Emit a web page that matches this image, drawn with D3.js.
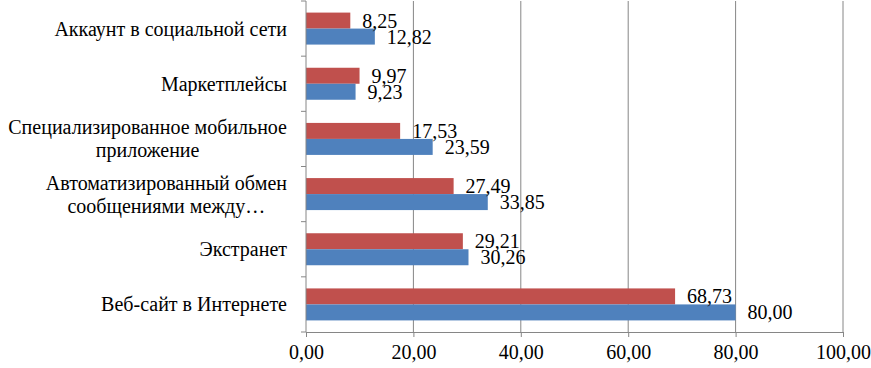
<!DOCTYPE html>
<html>
<head>
<meta charset="utf-8">
<script src="https://cdn.jsdelivr.net/npm/d3@7"></script>
</head>
<body style="margin:0">
<script>
// categories (top to bottom), each one split into its display lines
var categories = [
  ["Аккаунт в социальной сети"],
  ["Маркетплейсы"],
  ["Специализированное мобильное", "приложение"],
  ["Автоматизированный обмен", "сообщениями между…"],
  ["Экстранет"],
  ["Веб-сайт в Интернете"]
];
var seriesRed = [8.25, 9.97, 17.53, 27.49, 29.21, 68.73];
var seriesBlue = [12.82, 9.23, 23.59, 33.85, 30.26, 80.0];
var xTicks = [0, 20, 40, 60, 80, 100];

var fontName = "Times New Roman";
var FONT = "'" + fontName + "'";

var width = 871, height = 368;
var margin = { top: 1, right: 28, bottom: 36, left: 306 };
var w = width - margin.left - margin.right,
  h = height - margin.top - margin.bottom;

var svg = d3.select("body").append("svg")
  .attr("width", width)
  .attr("height", height);

var g = svg.append("g")
  .attr("transform", "translate(" + margin.left + "," + margin.top + ")");

var x = d3.scaleLinear().domain([0, 100]).range([0, w]);
var y = d3.scaleBand().domain(d3.range(categories.length)).range([0, h]).paddingInner(0.42).paddingOuter(0.21);
var sub = d3.scaleBand().domain(["red", "blue"]).range([0, y.bandwidth()]);

var fmt = function (v) { return d3.format(".2f")(v).replace(".", ","); };

// vertical gridlines
g.selectAll(".grid")
  .data(xTicks.slice(1))
  .enter().append("line")
  .attr("x1", function (d) { return x(d); })
  .attr("x2", function (d) { return x(d); })
  .attr("y1", 0).attr("y2", h)
  .attr("stroke", "#868686").attr("stroke-width", 1);

// bars
var colors = { red: "#C0504D", blue: "#4F81BD" };
var rows = categories.map(function (c, i) {
  return [{ key: "red", i: i, v: seriesRed[i] }, { key: "blue", i: i, v: seriesBlue[i] }];
});
var flat = d3.merge(rows);

g.selectAll(".bar")
  .data(flat)
  .enter().append("rect")
  .attr("x", 0)
  .attr("y", function (d) { return y(d.i) + sub(d.key); })
  .attr("width", function (d) { return x(d.v); })
  .attr("height", sub.bandwidth())
  .attr("fill", function (d) { return colors[d.key]; });

// value labels
g.selectAll(".val")
  .data(flat)
  .enter().append("text")
  .attr("x", function (d) { return x(d.v) + 12; })
  .attr("y", function (d) { return y(d.i) + sub(d.key) + sub.bandwidth() / 2; })
  .attr("dy", "0.35em")
  .style("font-family", FONT)
  .style("font-size", "20px")
  .attr("fill", "#000")
  .text(function (d) { return fmt(d.v); });

// x axis
var xAxis = d3.axisBottom(x).tickValues(xTicks).tickFormat(fmt).tickSize(5).tickPadding(8);
var gx = g.append("g").attr("transform", "translate(0," + h + ")").call(xAxis);
gx.select(".domain").attr("stroke", "#868686");
gx.selectAll(".tick line").attr("stroke", "#868686");
gx.selectAll(".tick text")
  .style("font-family", FONT)
  .style("font-size", "20px")
  .attr("fill", "#000");

// y axis (band boundaries as ticks)
var yStep = h / categories.length;
var gy = g.append("g");
gy.append("line").attr("x1", 0).attr("x2", 0).attr("y1", 0).attr("y2", h).attr("stroke", "#868686");
gy.selectAll(".ytick")
  .data(d3.range(categories.length + 1))
  .enter().append("line")
  .attr("x1", -5).attr("x2", 0)
  .attr("y1", function (d) { return d * yStep; })
  .attr("y2", function (d) { return d * yStep; })
  .attr("stroke", "#868686");

// category labels: block right-aligned, lines centred on each other
var lineH = 23;
categories.forEach(function (lines, i) {
  var cy = y(i) + y.bandwidth() / 2;
  var t = g.append("text")
    .style("font-family", FONT)
    .style("font-size", "20px")
    .attr("fill", "#000");
  lines.forEach(function (ln, k) {
    t.append("tspan")
      .attr("y", cy + (k - (lines.length - 1) / 2) * lineH)
      .attr("dy", "0.35em")
      .text(ln);
  });
  // measure the widest line, then centre lines within the block
  var maxW = 0;
  t.selectAll("tspan").each(function () { maxW = Math.max(maxW, this.getComputedTextLength()); });
  t.attr("text-anchor", "middle");
  t.selectAll("tspan").attr("x", -19 - maxW / 2);
});
</script>
</body>
</html>
